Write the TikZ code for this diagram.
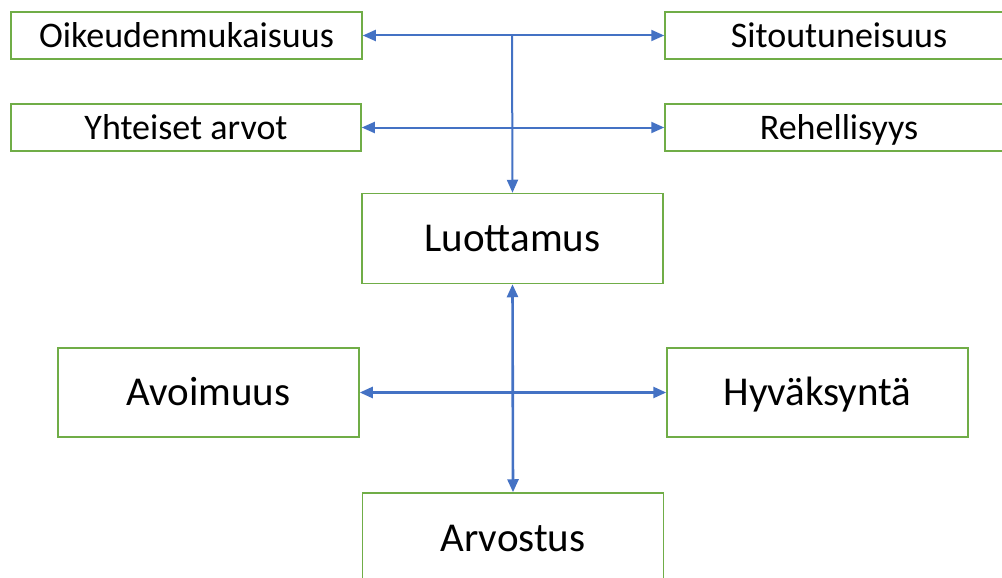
\documentclass[tikz,border=0pt]{standalone}
\usepackage{fontspec}
\setmainfont{Carlito}
\usetikzlibrary{arrows.meta}
\definecolor{boxgreen}{HTML}{70AD47}
\definecolor{linkblue}{HTML}{4472C4}
\begin{document}
\begin{tikzpicture}[x=1pt,y=-1pt,
  basebox/.style={draw=boxgreen,line width=1.5pt,fill=white,rectangle,inner sep=0pt},
  smallbox/.style={basebox,minimum height=47pt,font=\fontsize{36}{40}\selectfont,
    text height=28pt,text depth=4.8pt},
  bigbox/.style={basebox,minimum width=301pt,minimum height=90pt,font=\fontsize{41}{46}\selectfont,
    text height=32pt,text depth=5.6pt},
  link/.style={draw=linkblue,line width=2pt,
    arrows={Triangle[length=13pt,width=11pt]-Triangle[length=13pt,width=11pt]}},
  linkthick/.style={link,line width=2.6pt},
  oneway/.style={draw=linkblue,line width=2pt,-{Triangle[length=13pt,width=11pt]}}]
\clip (0,0) rectangle (1002,578);
\useasboundingbox (0,0) rectangle (1002,578);

% upper row of values
\node[smallbox,minimum width=351pt] (oik) at (186.5,35.5) {Oikeudenmukaisuus};
\node[smallbox,minimum width=350pt] (yht) at (186,127.5) {Yhteiset arvot};
\node[smallbox,minimum width=348pt] (sit) at (839,35.5) {Sitoutuneisuus};
\node[smallbox,minimum width=348pt] (reh) at (839,127.5) {Rehellisyys};

% central concepts
\node[bigbox] (luo) at (512.5,238.5) {Luottamus};
\node[bigbox,minimum height=89pt] (avo) at (208.5,392.5) {Avoimuus};
\node[bigbox,minimum height=89pt] (hyv) at (817.5,392.5) {Hyväksyntä};
\node[bigbox] (arv) at (513,538) {Arvostus};

% top branch feeding into trust
\coordinate (top) at (512,36);
\draw[link] (oik.east) -- (sit.west);
\draw[link] (yht.east) -- (reh.west);
\draw[oneway] (top) -- (luo.north);

% lower cross
\draw[linkthick] (luo.south) -- (arv.north);
\draw[linkthick] (avo.east) -- (hyv.west);
\end{tikzpicture}
\end{document}
